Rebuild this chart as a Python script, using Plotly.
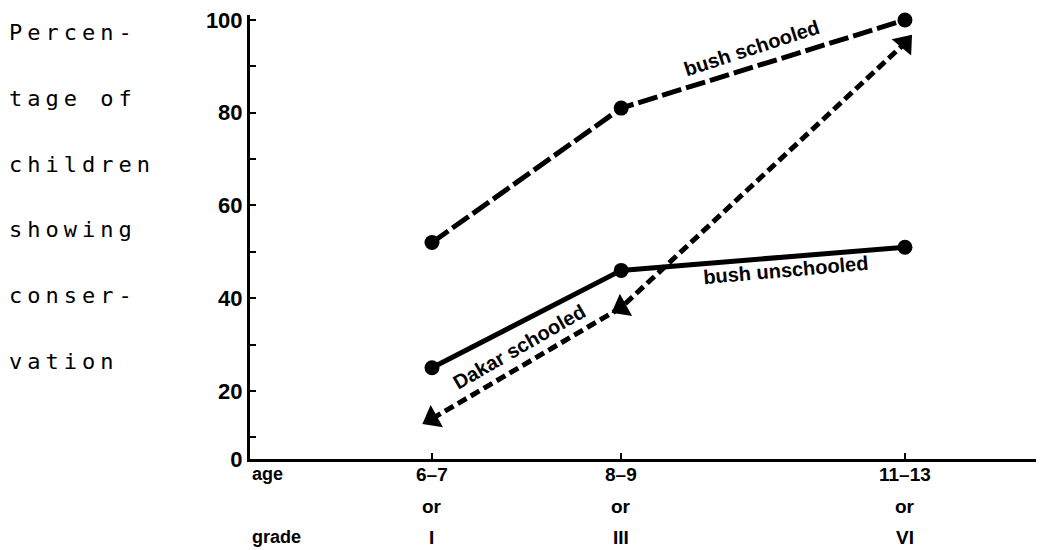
import plotly.graph_objects as go

# ---- data ----
grade_pos = [1, 3, 6]                 # x positions (school grade I, III, VI)
age_labels = ["6–7", "8–9", "11–13"]
or_labels = ["or", "or", "or"]
grade_labels = ["I", "III", "VI"]

bush_schooled = [52, 81, 100]
bush_unschooled = [25, 46, 51]
dakar_schooled = [14, 38, 95]

y_tick_vals = [20, 40, 60, 80, 100]
y_minor_vals = [10, 30, 50, 70, 90]
y_title_lines = ["Percen-", "tage of", "children", "showing", "conser-", "vation"]

# ---- layout geometry (page has an 8px body margin) ----
OFF = 8
W, H = 1036, 542
L, R, T, B = 242, 0, 2, 91
Y_MIN, Y_MAX = 5.33, 101.07
X_MIN, X_MAX = -0.924, 7.47
plot_h = H - T - B
plot_w = W - L - R

BOLD = dict(family="Liberation Sans, Arial, sans-serif", color="black", weight="bold")

fig = go.Figure()

fig.add_trace(go.Scatter(
    x=grade_pos, y=bush_schooled, mode="lines+markers", cliponaxis=False,
    line=dict(color="black", width=5, dash="20px,5px"),
    marker=dict(symbol="circle", size=15, color="black"),
    name="bush schooled", showlegend=False))

fig.add_trace(go.Scatter(
    x=grade_pos, y=bush_unschooled, mode="lines+markers", cliponaxis=False,
    line=dict(color="black", width=5),
    marker=dict(symbol="circle", size=15, color="black"),
    name="bush unschooled", showlegend=False))

fig.add_trace(go.Scatter(
    x=grade_pos, y=dakar_schooled, mode="lines+markers", cliponaxis=False,
    line=dict(color="black", width=5, dash="10px,5px"),
    marker=dict(symbol="triangle-up", size=22, color="black", angle=[241, 241, 40]),
    name="Dakar schooled", showlegend=False))

# line labels
line_labels = [
    ("bush schooled", 4.38, 94.0, -18),
    ("bush unschooled", 4.74, 46.1, -5),
    ("Dakar schooled", 1.92, 29.4, -30),
]
for txt, x, y, ang in line_labels:
    fig.add_annotation(x=x, y=y, xref="x", yref="y", text=txt, showarrow=False,
                       textangle=ang, font=dict(size=20, **BOLD))

# convert target page pixel positions into paper coordinates
def py_to_paper(py):
    return (H - B - (py - OFF)) / plot_h

def px_to_paper(px):
    return ((px - OFF) - L) / plot_w

rows = [(age_labels, 475), (or_labels, 507), (grade_labels, 538)]
for labels, py in rows:
    for gx, lab in zip(grade_pos, labels):
        fig.add_annotation(x=gx, y=py_to_paper(py), xref="x", yref="paper",
                           text=lab, showarrow=False, yanchor="middle",
                           font=dict(size=19, **BOLD))

fig.add_annotation(x=0, y=py_to_paper(474), xref="paper", yref="paper", text="age",
                   showarrow=False, xanchor="left", yanchor="middle",
                   font=dict(size=18, **BOLD))
fig.add_annotation(x=0, y=py_to_paper(538), xref="paper", yref="paper", text="grade",
                   showarrow=False, xanchor="left", yanchor="middle",
                   font=dict(size=18, **BOLD))

# left y-axis title, one annotation per line
for i, line in enumerate(y_title_lines):
    py = 28 + i * 66.4
    fig.add_annotation(x=px_to_paper(7), y=py_to_paper(py), xref="paper", yref="paper",
                       text=f'<span style="letter-spacing:5px">{line}</span>',
                       showarrow=False, xanchor="left", yanchor="middle",
                       font=dict(family="DejaVu Sans Mono, monospace", size=22, color="black"))

fig.update_xaxes(range=[X_MIN, X_MAX], showgrid=False, zeroline=False,
                 showline=True, linecolor="black", linewidth=3,
                 tickvals=grade_pos, ticktext=["", "", ""], ticks="inside",
                 ticklen=6, tickwidth=2, tickcolor="black")

fig.update_yaxes(range=[Y_MIN, Y_MAX], showgrid=False, zeroline=False,
                 showline=True, linecolor="black", linewidth=3,
                 tickvals=[Y_MIN] + y_tick_vals,
                 ticktext=["0"] + [str(v) for v in y_tick_vals],
                 ticks="inside", ticklen=6, tickwidth=2, tickcolor="black",
                 ticklabelstandoff=0, ticklabeloverflow="allow",
                 tickfont=dict(size=22, **BOLD),
                 minor=dict(tickvals=y_minor_vals, ticks="inside", ticklen=6,
                            tickwidth=2, tickcolor="black"))

fig.update_layout(width=W, height=H, margin=dict(l=L, r=R, t=T, b=B),
                  plot_bgcolor="white", paper_bgcolor="white", showlegend=False)

fig.write_html("out.html")
